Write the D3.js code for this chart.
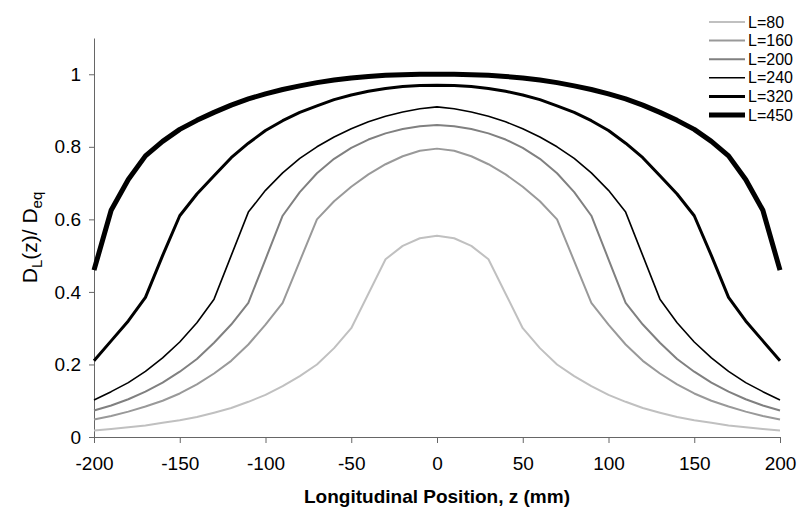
<!DOCTYPE html>
<html>
<head>
<meta charset="utf-8">
<script src="https://cdn.jsdelivr.net/npm/d3@7"></script>
<style>
  body { margin: 0; background: #fff; }
  svg { display: block; font-family: Arial, "Liberation Sans", sans-serif; }
  .axis path, .axis line { stroke: #666; }
  .axis text { font-size: 19px; fill: #000; }
</style>
</head>
<body>
<div id="chart"></div>
<script>
// longitudinal positions (mm)
const zValues = [-200, -190, -180, -170, -160, -150, -140, -130, -120, -110, -100,
                 -90, -80, -70, -60, -50, -40, -30, -20, -10, 0,
                 10, 20, 30, 40, 50, 60, 70, 80, 90, 100,
                 110, 120, 130, 140, 150, 160, 170, 180, 190, 200];

const seriesNames = ['L=80', 'L=160', 'L=200', 'L=240', 'L=320', 'L=450'];

// D_L(z)/D_eq
const l80 = [0.018, 0.022, 0.027, 0.032, 0.039, 0.046, 0.055, 0.067, 0.08, 0.097, 0.116,
             0.14, 0.168, 0.2, 0.245, 0.30, 0.395, 0.49, 0.527, 0.548, 0.555,
             0.548, 0.527, 0.49, 0.395, 0.30, 0.245, 0.2, 0.168, 0.14, 0.116,
             0.097, 0.08, 0.067, 0.055, 0.046, 0.039, 0.032, 0.027, 0.022, 0.018];
const l160 = [0.048, 0.058, 0.07, 0.084, 0.1, 0.12, 0.145, 0.175, 0.21, 0.255, 0.31,
              0.37, 0.485, 0.60, 0.65, 0.69, 0.724, 0.752, 0.774, 0.789, 0.795,
              0.789, 0.774, 0.752, 0.724, 0.69, 0.65, 0.60, 0.485, 0.37, 0.31,
              0.255, 0.21, 0.175, 0.145, 0.12, 0.1, 0.084, 0.07, 0.058, 0.048];
const l200 = [0.073, 0.087, 0.104, 0.125, 0.15, 0.18, 0.215, 0.26, 0.31, 0.37, 0.49,
              0.61, 0.675, 0.727, 0.767, 0.797, 0.82, 0.837, 0.849, 0.857, 0.86,
              0.857, 0.849, 0.837, 0.82, 0.797, 0.767, 0.727, 0.675, 0.61, 0.49,
              0.37, 0.31, 0.26, 0.215, 0.18, 0.15, 0.125, 0.104, 0.087, 0.073];
const l240 = [0.102, 0.125, 0.15, 0.181, 0.218, 0.262, 0.315, 0.38, 0.50, 0.62, 0.68,
              0.728, 0.768, 0.80, 0.827, 0.85, 0.869, 0.884, 0.896, 0.905, 0.91,
              0.905, 0.896, 0.884, 0.869, 0.85, 0.827, 0.80, 0.768, 0.728, 0.68,
              0.62, 0.50, 0.38, 0.315, 0.262, 0.218, 0.181, 0.15, 0.125, 0.102];
const l320 = [0.21, 0.265, 0.32, 0.385, 0.50, 0.61, 0.67, 0.72, 0.77, 0.81, 0.845,
              0.872, 0.895, 0.913, 0.93, 0.943, 0.953, 0.961, 0.966, 0.969, 0.97,
              0.969, 0.966, 0.961, 0.953, 0.943, 0.93, 0.913, 0.895, 0.872, 0.845,
              0.81, 0.77, 0.72, 0.67, 0.61, 0.50, 0.385, 0.32, 0.265, 0.21];
const l450 = [0.46, 0.625, 0.71, 0.775, 0.815, 0.848, 0.873, 0.895, 0.915, 0.932, 0.946,
              0.958, 0.968, 0.977, 0.984, 0.99, 0.994, 0.997, 0.999, 1.0, 1.0,
              1.0, 0.999, 0.997, 0.994, 0.99, 0.984, 0.977, 0.968, 0.958, 0.946,
              0.932, 0.915, 0.895, 0.873, 0.848, 0.815, 0.775, 0.71, 0.625, 0.46];

const xTicks = [-200, -150, -100, -50, 0, 50, 100, 150, 200];
const yTicks = [0, 0.2, 0.4, 0.6, 0.8, 1];

const seriesValues = [l80, l160, l200, l240, l320, l450];
const colors = ['#c0c0c0', '#999999', '#808080', '#000', '#000', '#000'];
const widths = [2, 2, 2, 1.6, 3, 5];

const width = 806, height = 514;
const margin = { top: 38, right: 26, bottom: 77, left: 94 };

const svg = d3.select('#chart').append('svg')
  .attr('width', width)
  .attr('height', height);

const x = d3.scaleLinear()
  .domain([-200, 200])
  .range([margin.left, width - margin.right]);

const y = d3.scaleLinear()
  .domain([0, 1.1])
  .range([height - margin.bottom, margin.top]);

svg.append('g')
  .attr('class', 'axis')
  .attr('transform', `translate(0,${height - margin.bottom})`)
  .call(d3.axisBottom(x).tickValues(xTicks).tickSize(6).tickSizeOuter(0).tickPadding(14)
    .tickFormat(d => d.toString()));

svg.append('g')
  .attr('class', 'axis')
  .attr('transform', `translate(${margin.left},0)`)
  .call(d3.axisLeft(y).tickValues(yTicks).tickSize(5).tickSizeOuter(0).tickPadding(8)
    .tickFormat(d => d.toString()));

const line = d3.line()
  .x((d, i) => x(zValues[i]))
  .y(d => y(d));

svg.append('g')
  .selectAll('path')
  .data(seriesValues)
  .join('path')
    .attr('fill', 'none')
    .attr('stroke', (d, i) => colors[i])
    .attr('stroke-width', (d, i) => widths[i])
    .attr('stroke-linejoin', 'round')
    .attr('d', line);

// legend
const row = svg.append('g')
  .selectAll('g')
  .data(seriesNames)
  .join('g')
    .attr('transform', (d, i) => `translate(709,${22 + i * 18.6})`);

row.append('line')
  .attr('x1', 0).attr('x2', 36)
  .attr('stroke', (d, i) => colors[i])
  .attr('stroke-width', (d, i) => widths[i]);

row.append('text')
  .attr('x', 39)
  .attr('dy', '0.35em')
  .style('font-size', '16px')
  .text(d => d);

// axis titles
svg.append('text')
  .attr('x', x(0))
  .attr('y', 503)
  .attr('text-anchor', 'middle')
  .style('font-size', '19px')
  .style('font-weight', 'bold')
  .text('Longitudinal Position, z (mm)');

const yTitle = svg.append('text')
  .attr('transform', `translate(37,${y(0.55)}) rotate(-90)`)
  .attr('text-anchor', 'middle')
  .style('font-size', '21px');
yTitle.append('tspan').text('D');
yTitle.append('tspan').attr('dy', 5).style('font-size', '15px').text('L');
yTitle.append('tspan').attr('dy', -5).text('(z)/ D');
yTitle.append('tspan').attr('dy', 5).style('font-size', '15px').text('eq');
</script>
</body>
</html>
